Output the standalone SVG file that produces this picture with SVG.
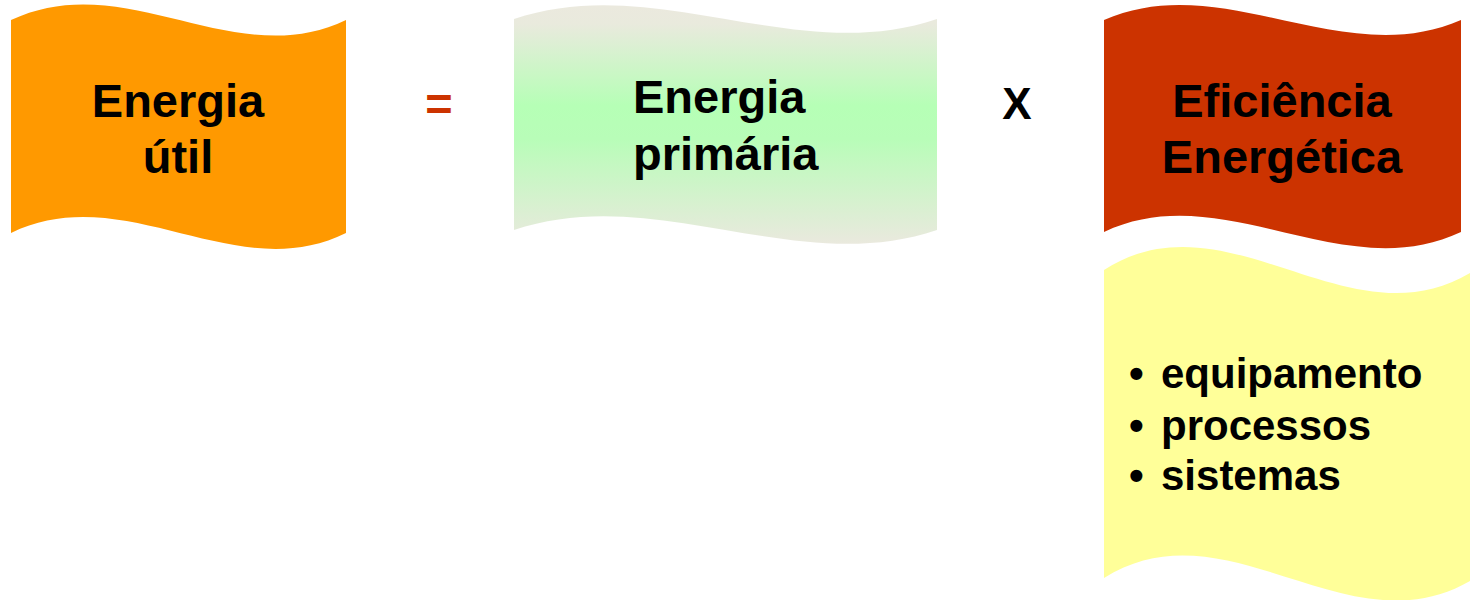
<svg xmlns="http://www.w3.org/2000/svg" width="1470" height="600" viewBox="0 0 1470 600">
<style>
  .t { font-family: "Liberation Sans", Arial, sans-serif; font-weight: bold; fill: #000; }
  .big { font-size: 47px; text-anchor: middle; }
  .list { font-size: 42px; }
</style>
<defs>
  <linearGradient id="gGreen" x1="0" y1="0" x2="0" y2="1">
    <stop offset="0" stop-color="#EBE9DE"/>
    <stop offset="0.08" stop-color="#E9EADD"/>
    <stop offset="0.42" stop-color="#B6FFB6"/>
    <stop offset="0.56" stop-color="#B8FDB8"/>
    <stop offset="1" stop-color="#EAE9DE"/>
  </linearGradient>
</defs>
<rect width="1470" height="600" fill="#FFFFFF"/>
<g id="energia-util">
  <path d="M11,20 C126,-34 234,74 346,20 L346,233 C234,288 126,178 11,233 Z" fill="#FF9900"/>
  <text class="t big" x="178" y="117">Energia</text>
  <text class="t big" x="178" y="173">útil</text>
</g>
<g id="op-equals">
  <text class="t big" x="439" y="120" style="fill:#CC3300">=</text>
</g>
<g id="energia-primaria">
  <path d="M514,19 C655,-29 796,67 937,19 L937,230 C796,278 655,182 514,230 Z" fill="url(#gGreen)"/>
  <text class="t" font-size="47" x="633" y="113">Energia</text>
  <text class="t" font-size="47" x="633" y="170">primária</text>
</g>
<g id="op-times">
  <text class="t" x="1017" y="119" font-size="44" text-anchor="middle">X</text>
</g>
<g id="eficiencia">
  <path d="M1104,20 C1223,-32 1342,72 1461,20 L1461,232 C1342,288 1223,176 1104,232 Z" fill="#CC3300"/>
  <text class="t big" x="1282" y="117">Eficiência</text>
  <text class="t big" x="1282" y="173">Energética</text>
</g>
<g id="fatores">
  <path d="M1104,270 C1228,190 1351,350 1475,270 L1475,578 C1351,656 1228,500 1104,578 Z" fill="#FFFF99"/>
  <text class="t list" y="388"><tspan x="1129">•</tspan><tspan x="1161">equipamento</tspan></text>
  <text class="t list" y="440"><tspan x="1129">•</tspan><tspan x="1161">processos</tspan></text>
  <text class="t list" y="490"><tspan x="1129">•</tspan><tspan x="1161">sistemas</tspan></text>
</g>
<g id="connectors"></g>
</svg>
